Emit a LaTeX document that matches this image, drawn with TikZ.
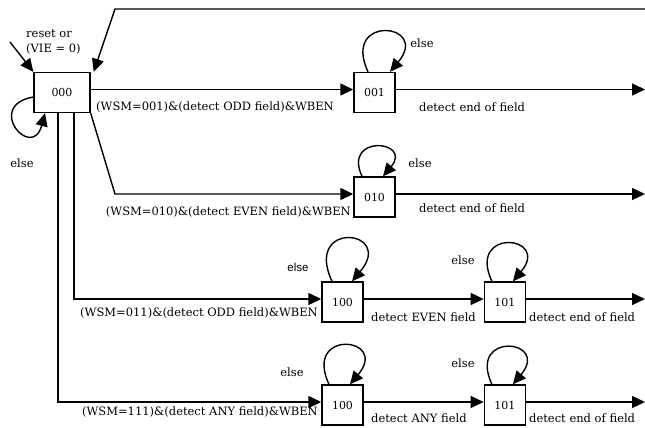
\documentclass[tikz,border=0pt]{standalone}
\usepackage{fontspec}
\setmainfont{DejaVu Serif}
\newfontfamily\arialfont{Liberation Sans}
\usetikzlibrary{arrows.meta, positioning}

\begin{document}
\begin{tikzpicture}[
  x=1pt, y=1pt,
  state/.style={draw, line width=1.4pt, minimum width=41pt, minimum height=40pt, inner sep=0pt, font=\fontsize{11}{13}\selectfont},
  lbl/.style={font=\fontsize{11.5}{15}\selectfont, inner sep=0pt},
  wire/.style={line width=1.4pt},
  arr/.style={wire, -{Triangle[length=13pt, width=12pt]}},
  loopy/.style={arr, out=115, in=50}
]
  \useasboundingbox (0,0) rectangle (645,-428);

  \node[state, minimum width=56pt] (s000) at (62,-92.5) {000};
  \node[state] (s001) at (374.5,-92.5) {001};
  \node[state] (s010) at (374.5,-197) {010};
  \node[state] (s100a) at (342.5,-302) {100};
  \node[state, right=120pt of s100a] (s101a) {101};
  \node[state] (s100b) at (342.5,-405) {100};
  \node[state, right=120pt of s100b] (s101b) {101};

  \coordinate (rst) at (10,-42);
  \coordinate (top1) at (645,-9);
  \coordinate (top2) at (115,-9);
  \coordinate (bend) at (115,-194);
  \coordinate (end1) at (645,-89.5);
  \coordinate (end2) at (645,-194);
  \coordinate (end3) at (645,-299);
  \coordinate (end4) at (645,-402);

  \draw[arr] (rst) -- (s000.north west);
  \draw[arr] (top1) -- (top2) -- ([xshift=3pt]s000.north east);
  \draw[arr, out=190, in=-105, distance=50pt] ([yshift=-4.5pt]s000.west) to ([xshift=-17pt]s000.south);

  \draw[arr] ([yshift=3pt]s000.east) -- ([yshift=3pt]s001.west);
  \draw[arr] (s000.south east) -- (bend) -- ([yshift=3pt]s010.west);
  \draw[arr] ([xshift=12pt]s000.south) |- ([yshift=3pt]s100a.west);
  \draw[arr] ([xshift=-4pt]s000.south) |- ([yshift=3pt]s100b.west);
  \draw[arr] ([yshift=3pt]s100a.east) -- ([yshift=3pt]s101a.west);
  \draw[arr] ([yshift=3pt]s100b.east) -- ([yshift=3pt]s101b.west);

  \draw[arr] ([yshift=3pt]s001.east) -- (end1);
  \draw[arr] ([yshift=3pt]s010.east) -- (end2);
  \draw[arr] ([yshift=3pt]s101a.east) -- (end3);
  \draw[arr] ([yshift=3pt]s101b.east) -- (end4);

  \draw[loopy, distance=64pt] ([xshift=-6.5pt]s001.north) to ([xshift=15.5pt]s001.north);
  \draw[loopy, distance=47pt] ([xshift=-12.5pt]s010.north) to ([xshift=8.5pt]s010.north);
  \draw[loopy, distance=68pt] ([xshift=-10.5pt]s100a.north) to ([xshift=9.5pt]s100a.north);
  \draw[loopy, distance=60pt] ([xshift=-13pt]s101a.north) to ([xshift=8pt]s101a.north);
  \draw[loopy, distance=62pt] ([xshift=-13.5pt]s100b.north) to ([xshift=7.5pt]s100b.north);
  \draw[loopy, distance=59pt] ([xshift=-13pt]s101b.north) to ([xshift=8pt]s101b.north);

  \node[lbl, anchor=west, align=left] (reset) at (26,-42) {reset or\\(VIE = 0)};
  \node[lbl] (else0) at (22,-163) {else};
  \node[lbl] (else1) at (422,-43) {else};
  \node[lbl] (else2) at (420,-163) {else};
  \node[lbl, font=\arialfont\fontsize{11.5}{14}\selectfont] (else3) at (298,-267) {else};
  \node[lbl] (else4) at (463,-260) {else};
  \node[lbl] (else5) at (292,-372) {else};
  \node[lbl] (else6) at (463,-363) {else};

  \node[lbl, anchor=west] (wsm1) at (96,-107) {(WSM=001)\&(detect ODD field)\&WBEN};
  \node[lbl, anchor=east] (wsm2) at (351,-212) {(WSM=010)\&(detect EVEN field)\&WBEN};
  \node[lbl, anchor=east] (wsm3) at (318,-313) {(WSM=011)\&(detect ODD field)\&WBEN};
  \node[lbl, anchor=east] (wsm4) at (318,-412) {(WSM=111)\&(detect ANY field)\&WBEN};

  \node[lbl, anchor=west] (eof1) at (419,-107) {detect end of field};
  \node[lbl, anchor=west] (eof2) at (419,-208) {detect end of field};
  \node[lbl, anchor=west] (even3) at (371,-317) {detect EVEN field};
  \node[lbl, anchor=west] (eof3) at (529,-317) {detect end of field};
  \node[lbl, anchor=west] (any4) at (371,-418) {detect ANY field};
  \node[lbl, anchor=west] (eof4) at (529,-418) {detect end of field};
\end{tikzpicture}
\end{document}
